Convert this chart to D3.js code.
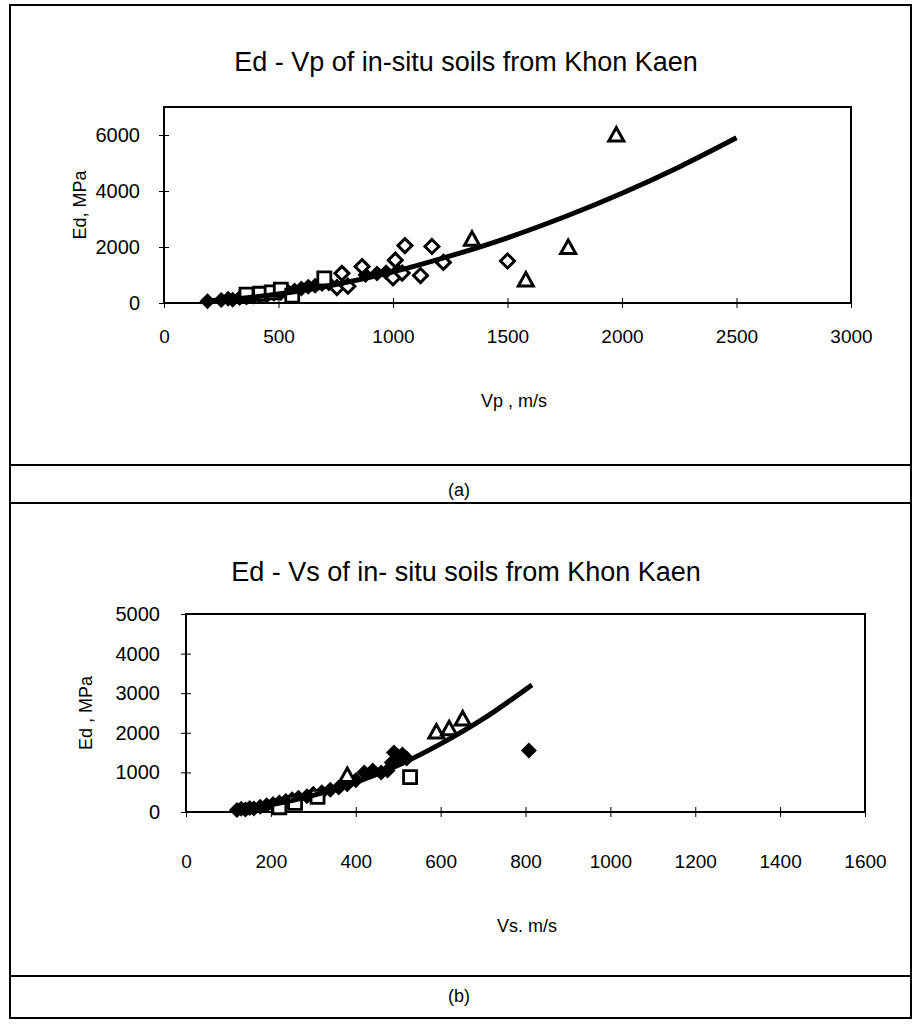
<!DOCTYPE html>
<html>
<head>
<meta charset="utf-8">
<script src="https://cdn.jsdelivr.net/npm/d3@7"></script>
<style>
  body { margin: 0; background: #fff; }
  text { font-family: "Liberation Sans", Arial, sans-serif; fill: #000; }
</style>
</head>
<body>
<div id="chart"></div>
<script>
// ---- (a) Ed vs Vp ----
const vpSolid = [[190,60],[250,110],[280,150],[300,120],[330,180],[360,200],[390,230],[420,260],[450,280],
  [480,330],[510,360],[540,420],[570,450],[600,520],[630,580],[660,620],[690,680],[720,700],
  [880,1000],[930,1050],[970,1100],[1020,1150]];
const vpSquare = [[360,300],[420,330],[470,380],[510,480],[560,260],[700,880]];
const vpDiamondOpen = [[755,550],[777,1060],[803,600],[865,1300],[1000,900],[1010,1530],[1040,1070],
  [1052,2050],[1120,980],[1170,2020],[1220,1450],[1500,1500]];
const vpTriangle = [[1345,2280],[1580,820],[1765,1980],[1975,6000]];
const vpTrend = [[180,60],[300,140],[500,320],[750,660],[1000,1110],[1250,1680],[1500,2330],
  [1750,3080],[2000,3920],[2250,4860],[2500,5900]];
const vpTicks = [0,500,1000,1500,2000,2500,3000];
const edTicksA = [0,2000,4000,6000];

// ---- (b) Ed vs Vs ----
const vsSolid = [[120,50],[130,80],[140,60],[150,100],[160,90],[175,130],[190,170],[205,200],[220,240],
  [235,280],[250,320],[265,360],[285,400],[300,460],[320,500],[340,560],[360,620],[380,700],[400,800],
  [420,1000],[440,1050],[460,1000],[475,1050],[485,1250],[490,1500],[500,1400],[510,1450],[520,1350],[808,1550]];
const vsSquare = [[220,120],[257,230],[310,380],[528,880]];
const vsTriangle = [[380,920],[590,2020],[620,2100],[652,2350]];
const vsTrend = [[120,60],[200,180],[300,420],[400,750],[500,1180],[600,1720],[700,2350],[815,3210]];
const vsTicks = [0,200,400,600,800,1000,1200,1400,1600];
const edTicksB = [0,1000,2000,3000,4000,5000];

const svg = d3.select("#chart").append("svg")
    .attr("width", 917)
    .attr("height", 1025);

// table-like frames around the two figures
const frames = [[5,465],[465,503],[503,976],[976,1018]];
svg.selectAll("rect.frame")
    .data(frames)
    .enter()
    .append("rect")
    .attr("class", "frame")
    .attr("x", 10)
    .attr("y", d => d[0])
    .attr("width", 901)
    .attr("height", d => d[1] - d[0])
    .attr("fill", "none")
    .attr("stroke", "#000")
    .attr("stroke-width", 2);

svg.append("text").attr("x", 459).attr("y", 491).attr("text-anchor", "middle")
    .attr("dominant-baseline", "middle").style("font-size", "18px").text("(a)");
svg.append("text").attr("x", 459).attr("y", 997).attr("text-anchor", "middle")
    .attr("dominant-baseline", "middle").style("font-size", "18px").text("(b)");

function drawMarkers(g, data, type, x, y) {
    const sel = g.append("g").selectAll("path")
        .data(data)
        .enter()
        .append("path")
        .attr("transform", d => `translate(${x(d[0])},${y(d[1])})`);
    if (type === "fdiamond") {
        sel.attr("d", "M0,-8L8,0L0,8L-8,0Z").attr("fill", "#000");
    } else if (type === "odiamond") {
        sel.attr("d", "M0,-7L7,0L0,7L-7,0Z").attr("fill", "#fff")
            .attr("stroke", "#000").attr("stroke-width", 3);
    } else if (type === "square") {
        sel.attr("d", "M-6.5,-6.5H6.5V6.5H-6.5Z").attr("fill", "#fff")
            .attr("stroke", "#000").attr("stroke-width", 2.8);
    } else if (type === "triangle") {
        sel.attr("d", "M0,-7.5L7.5,6H-7.5Z").attr("fill", "#fff")
            .attr("stroke", "#000").attr("stroke-width", 3);
    }
}

function drawChart(cfg) {
    const x = d3.scaleLinear().domain(cfg.xDomain).range(cfg.xRange);
    const y = d3.scaleLinear().domain(cfg.yDomain).range(cfg.yRange);
    const g = svg.append("g");

    g.append("text")
        .attr("x", 466).attr("y", cfg.titleY)
        .attr("text-anchor", "middle")
        .style("font-size", "27px")
        .text(cfg.title);

    // plot frame
    g.append("rect")
        .attr("x", cfg.xRange[0]).attr("y", cfg.yRange[1])
        .attr("width", cfg.xRange[1] - cfg.xRange[0])
        .attr("height", cfg.yRange[0] - cfg.yRange[1])
        .attr("fill", "none").attr("stroke", "#000").attr("stroke-width", 2);

    // axes with cross tick marks
    const yAxis = g.append("g")
        .attr("transform", `translate(${cfg.xRange[0]},0)`)
        .call(d3.axisLeft(y).tickValues(cfg.yTicks).tickFormat(d3.format("d"))
            .tickSize(5).tickPadding(cfg.yPad));
    yAxis.select(".domain").remove();
    yAxis.selectAll(".tick line").attr("x1", 5).attr("stroke-width", 1);
    yAxis.selectAll(".tick text").style("font-size", "20px");

    const xAxis = g.append("g")
        .attr("transform", `translate(0,${cfg.yRange[0]})`)
        .call(d3.axisBottom(x).tickValues(cfg.xTicks).tickFormat(d3.format("d"))
            .tickSize(5).tickPadding(cfg.xPad));
    xAxis.select(".domain").remove();
    xAxis.selectAll(".tick line").attr("y1", -5).attr("stroke-width", 1);
    xAxis.selectAll(".tick text").style("font-size", "19px");

    g.append("text")
        .attr("x", cfg.xTitlePos[0]).attr("y", cfg.xTitlePos[1])
        .attr("text-anchor", "middle")
        .style("font-size", "18px")
        .text(cfg.xTitle);

    g.append("text")
        .attr("transform", `translate(${cfg.yTitleX},${(cfg.yRange[0] + cfg.yRange[1]) / 2}) rotate(-90)`)
        .attr("text-anchor", "middle")
        .style("font-size", "18px")
        .text(cfg.yTitle);

    cfg.series.forEach(s => drawMarkers(g, s.data, s.type, x, y));

    // power trend line, through points
    g.append("path")
        .datum(cfg.trend)
        .attr("fill", "none")
        .attr("stroke", "#000")
        .attr("stroke-width", 5)
        .attr("d", d3.line().x(d => x(d[0])).y(d => y(d[1])).curve(d3.curveMonotoneX));
}

drawChart({
    title: "Ed - Vp of in-situ soils from Khon Kaen",
    titleY: 71,
    xDomain: [0, 3000], xRange: [164, 851],
    yDomain: [0, 7000], yRange: [303, 107],
    xTicks: vpTicks, yTicks: edTicksA, xPad: 22, yPad: 19,
    xTitle: "Vp , m/s", xTitlePos: [514, 407],
    yTitle: "Ed, MPa", yTitleX: 86,
    series: [
        { data: vpSolid, type: "fdiamond" },
        { data: vpSquare, type: "square" },
        { data: vpDiamondOpen, type: "odiamond" },
        { data: vpTriangle, type: "triangle" }
    ],
    trend: vpTrend
});

drawChart({
    title: "Ed - Vs of in- situ soils from Khon Kaen",
    titleY: 581,
    xDomain: [0, 1600], xRange: [186, 865],
    yDomain: [0, 5000], yRange: [812, 614],
    xTicks: vsTicks, yTicks: edTicksB, xPad: 38, yPad: 21,
    xTitle: "Vs. m/s", xTitlePos: [527, 932],
    yTitle: "Ed , MPa", yTitleX: 92,
    series: [
        { data: vsSolid, type: "fdiamond" },
        { data: vsSquare, type: "square" },
        { data: vsTriangle, type: "triangle" }
    ],
    trend: vsTrend
});
</script>
</body>
</html>
